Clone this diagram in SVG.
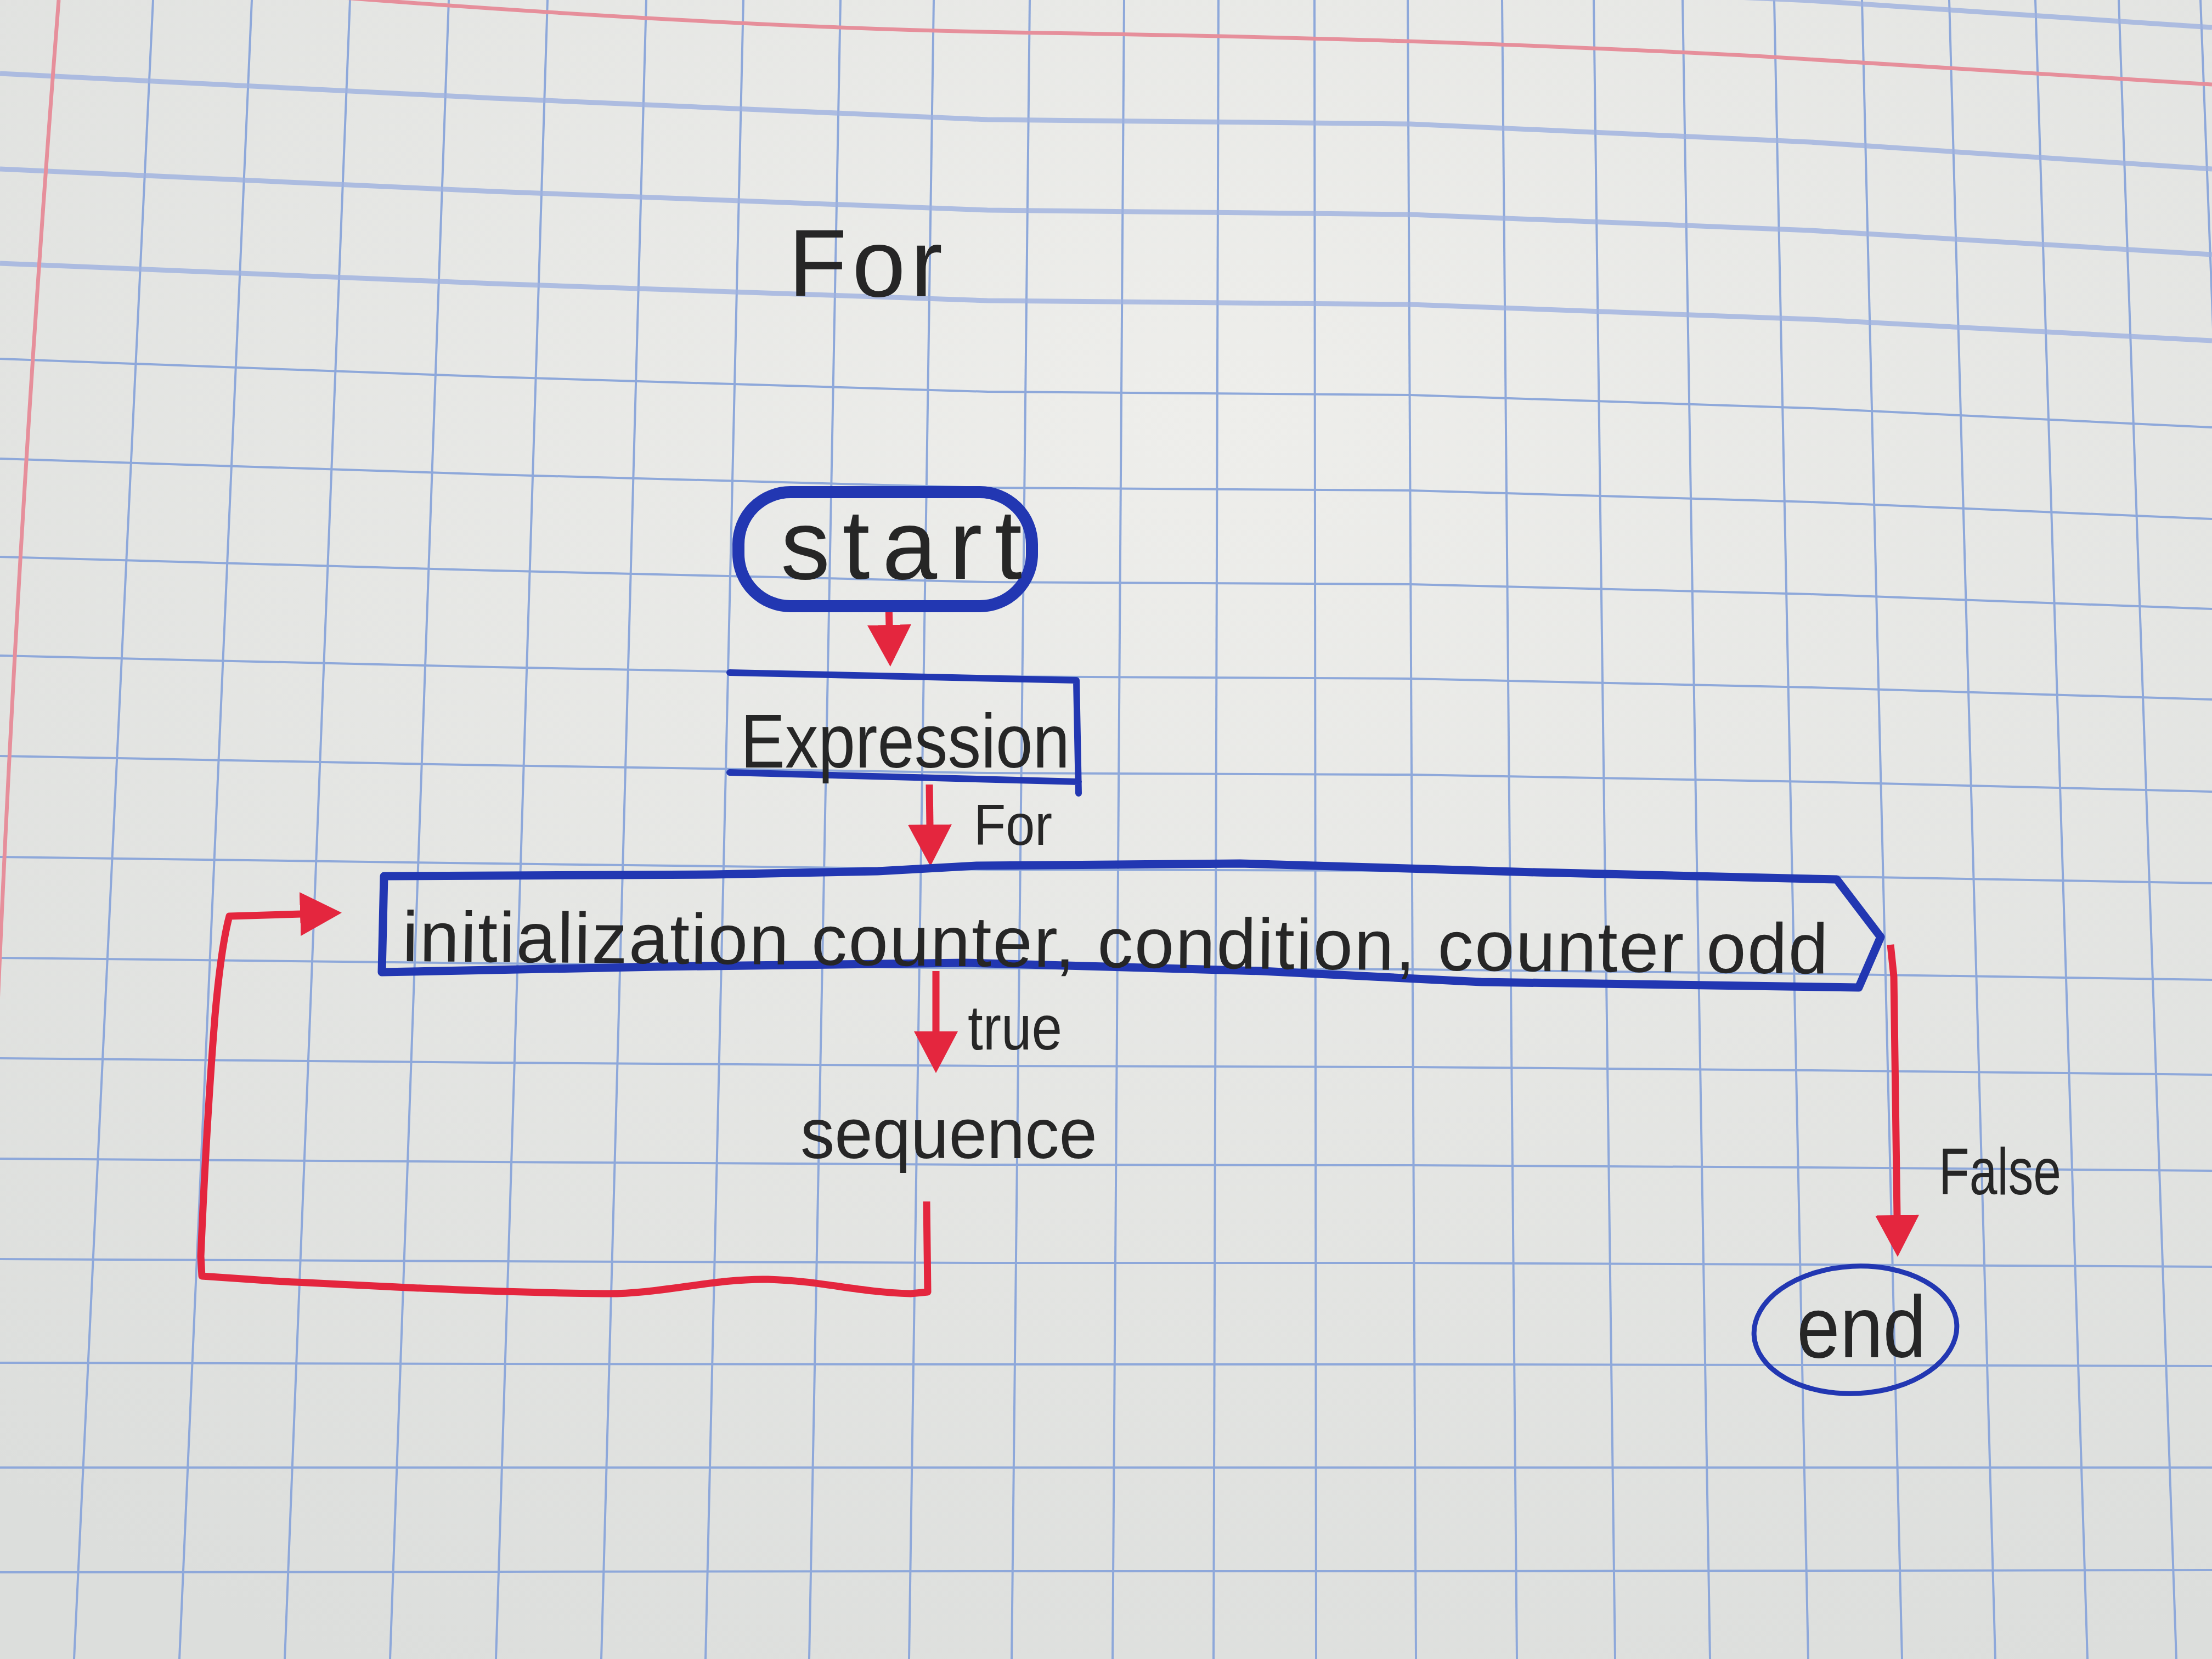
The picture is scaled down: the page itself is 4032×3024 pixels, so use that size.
<svg xmlns="http://www.w3.org/2000/svg" width="4032" height="3024" viewBox="0 0 4032 3024">
<style>
.grid{fill:none;stroke:#8ea8da;stroke-width:4}
.gridsoft{fill:none;stroke:#9fb2e0;stroke-width:9;opacity:0.8}
.margin{fill:none;stroke:#e68f9b;stroke-width:7}
.box{fill:none;stroke:#2237b2;stroke-linejoin:round;stroke-linecap:round}
.ink{font-family:"Liberation Sans",Arial,sans-serif;fill:#262626}
.wire{fill:none;stroke:#e4263e;stroke-width:13;stroke-linecap:butt;stroke-linejoin:round}
</style>
<defs>
<radialGradient id="paper" cx="0.55" cy="0.25" r="0.85">
<stop offset="0" stop-color="#eeeeeb"/>
<stop offset="1" stop-color="#dcdedc"/>
</radialGradient>
<marker id="ah" viewBox="0 0 76 80" refX="2" refY="40" markerWidth="76" markerHeight="80" markerUnits="userSpaceOnUse" orient="auto">
<path d="M0,0 L76,40 L0,80 Z" fill="#e4263e"/>
</marker>
</defs>

<g id="paper-background">
<rect x="0" y="0" width="4032" height="3024" fill="url(#paper)"/>
<g id="grid-vertical" class="grid">
<path d="M279,0 L135,3024"/>
<path d="M459,0 L327,3024"/>
<path d="M638,0 L519,3024"/>
<path d="M818,0 L711,3024"/>
<path d="M998,0 L904,3024"/>
<path d="M1178,0 L1096,3024"/>
<path d="M1355,0 L1286,3024"/>
<path d="M1532,0 L1475,3024"/>
<path d="M1702,0 L1657,3024"/>
<path d="M1877,0 L1844,3024"/>
<path d="M2049,0 L2028,3024"/>
<path d="M2221,0 L2212,3024"/>
<path d="M2396,0 L2399,3024"/>
<path d="M2566,0 L2581,3024"/>
<path d="M2738,0 L2765,3024"/>
<path d="M2905,0 L2944,3024"/>
<path d="M3067,0 L3117,3024"/>
<path d="M3234,0 L3296,3024"/>
<path d="M3394,0 L3467,3024"/>
<path d="M3553,0 L3637,3024"/>
<path d="M3710,0 L3805,3024"/>
<path d="M3862,0 L3967,3024"/>
<path d="M4011,0 L4127,3024"/>
</g>
<g id="grid-horizontal-top" class="gridsoft">
<path d="M0,-125 L900,-80 L1800,-41 L2571,-32 L3300,1 L4032,50"/>
<path d="M0,134 L900,179 L1800,218 L2571,226 L3300,259 L4032,308"/>
<path d="M0,308 L900,349 L1800,383 L2571,391 L3300,420 L4032,464"/>
<path d="M0,480 L900,517 L1800,548 L2571,555 L3300,582 L4032,621"/>
</g>
<g id="grid-horizontal" class="grid">
<path d="M0,654 L900,687 L1800,714 L2571,720 L3300,744 L4032,779"/>
<path d="M0,836 L900,865 L1800,889 L2571,894 L3300,915 L4032,946"/>
<path d="M0,1015 L900,1040 L1800,1061 L2571,1065 L3300,1083 L4032,1110"/>
<path d="M0,1195 L900,1216 L1800,1233 L2571,1237 L3300,1253 L4032,1275"/>
<path d="M0,1378 L900,1395 L1800,1409 L2571,1412 L3300,1425 L4032,1443"/>
<path d="M0,1562 L900,1574 L1800,1585 L2571,1587 L3300,1597 L4032,1610"/>
<path d="M0,1746 L900,1756 L1800,1765 L2571,1767 L3300,1775 L4032,1786"/>
<path d="M0,1929 L900,1937 L1800,1943 L2571,1945 L3300,1951 L4032,1959"/>
<path d="M0,2112 L900,2118 L1800,2123 L2571,2124 L3300,2128 L4032,2134"/>
<path d="M0,2295 L900,2299 L1800,2302 L2571,2302 L3300,2305 L4032,2309"/>
<path d="M0,2484 L900,2486 L1800,2487 L2571,2487 L3300,2488 L4032,2490"/>
<path d="M0,2675 L4032,2675"/>
<path d="M0,2866 L900,2865 L1800,2864 L2571,2864 L3300,2863 L4032,2862"/>
</g>
<g id="margins" class="margin">
<path d="M107,0 Q60,600 27,1196 T-25,2400"/>
<path d="M600,-6 C1200,40 1600,56 1900,60 C2300,66 2700,76 3200,102 L4032,154"/>
</g>
</g>

<g id="title">
<text class="ink" x="1437" y="540" font-size="175" textLength="281" lengthAdjust="spacing">For</text>
</g>

<g id="connectors">
<path id="c-start-expr" class="wire" d="M1620,1100 L1621,1141" marker-end="url(#ah)"/>
<path id="c-expr-loop" class="wire" d="M1694,1430 L1695,1505" marker-end="url(#ah)"/>
<path id="c-loop-seq" class="wire" d="M1706,1770 L1706,1882" marker-end="url(#ah)"/>
<path id="c-seq-back" class="wire" d="M1689,2190 L1691,2355 L1660,2358 C1560,2355 1500,2335 1400,2332 C1300,2330 1200,2360 1100,2358 C900,2356 700,2345 500,2335 L368,2326 L366,2290 C372,2150 380,2000 392,1850 C400,1760 410,1700 418,1670 L549,1666" marker-end="url(#ah)"/>
<path id="c-loop-end" class="wire" d="M3446,1722 L3452,1780 L3458,2217" marker-end="url(#ah)"/>
<text class="ink" x="1775" y="1540" font-size="105" textLength="143" lengthAdjust="spacingAndGlyphs">For</text>
<text class="ink" x="1764" y="1913" font-size="115" textLength="172" lengthAdjust="spacingAndGlyphs">true</text>
<text class="ink" x="3534" y="2177" font-size="120" textLength="223" lengthAdjust="spacingAndGlyphs">False</text>
</g>

<g id="node-start">
<rect class="box" x="1346" y="897" width="535" height="208" rx="95" ry="95" stroke="#1c2c9e" stroke-width="22"/>
<text class="ink" x="1423" y="1055" font-size="180" textLength="440" lengthAdjust="spacing">start</text>
</g>

<g id="node-expression">
<path class="box" stroke-width="12" d="M1330,1226 L1962,1240 L1966,1446 M1966,1425 L1330,1408 Z"/>
<text class="ink" x="1350" y="1399" font-size="140" textLength="600" lengthAdjust="spacingAndGlyphs">Expression</text>
</g>

<g id="node-loop">
<path class="box" stroke-width="15" d="M700,1597 L1300,1594 L1600,1588 L1780,1578 L2260,1574 L2800,1590 L3348,1603 L3428,1708 L3388,1800 L2700,1790 L2300,1770 L1760,1755 L1200,1762 L696,1772 Z"/>
<text class="ink" x="733" y="1752" font-size="130" textLength="2599" lengthAdjust="spacing" transform="rotate(0.5 733 1752)">initialization counter, condition, counter odd</text>
</g>

<g id="node-sequence">
<text class="ink" x="1459" y="2111" font-size="130" textLength="541" lengthAdjust="spacingAndGlyphs">sequence</text>
</g>

<g id="node-end">
<ellipse class="box" cx="3382" cy="2424" rx="185" ry="116" stroke-width="9" transform="rotate(-3 3382 2424)"/>
<text class="ink" x="3275" y="2474" font-size="160" textLength="236" lengthAdjust="spacingAndGlyphs">end</text>
</g>
</svg>
